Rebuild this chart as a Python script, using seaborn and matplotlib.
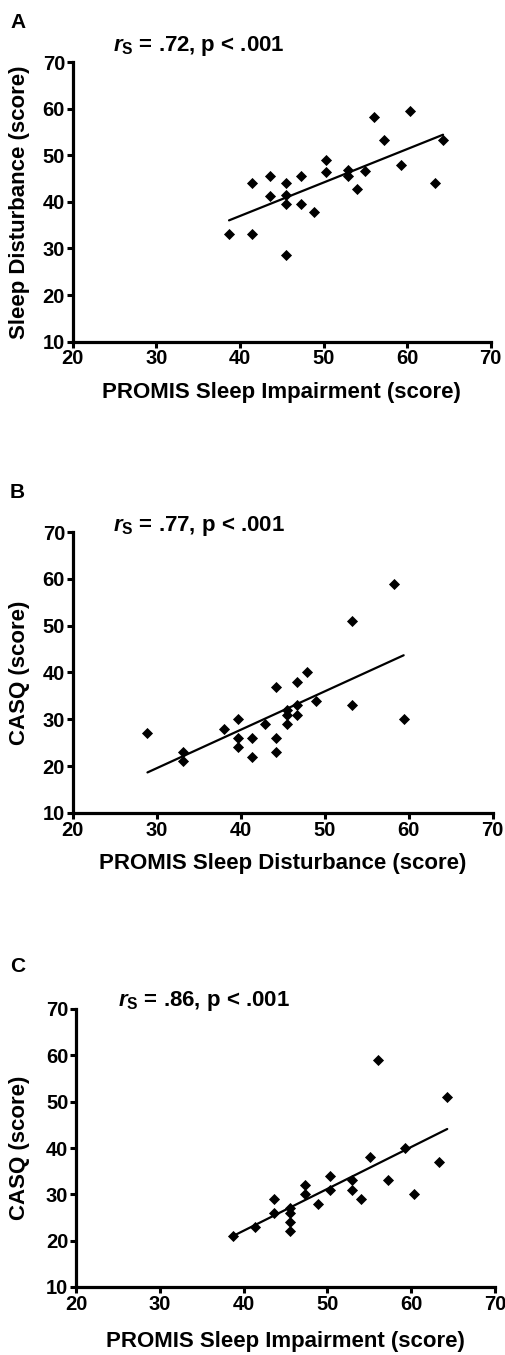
import matplotlib
matplotlib.use("Agg")
import matplotlib.pyplot as plt
import seaborn as sns
import pandas as pd

# Panel A: PROMIS Sleep Impairment (x) vs Sleep Disturbance (y)
a_x = [38.7, 41.4, 41.4, 43.6, 43.6, 45.5, 45.5, 45.5, 45.5, 47.3, 47.3, 48.9,
       50.3, 50.3, 52.9, 52.9, 54.0, 55.0, 59.3, 63.3, 56.0, 60.3, 57.2, 64.3]
a_y = [33.0, 44.0, 33.0, 45.5, 41.2, 44.0, 41.5, 39.5, 28.7, 45.5, 39.6, 37.8,
       49.0, 46.5, 46.8, 45.5, 42.8, 46.7, 47.8, 44.0, 58.2, 59.4, 53.2, 53.3]

# Panel B: PROMIS Sleep Disturbance (x) vs CASQ (y)
b_x = [28.9, 33.1, 33.1, 38.0, 39.7, 39.7, 39.7, 41.4, 41.4, 42.9, 44.2, 44.2,
       44.2, 45.5, 45.5, 45.5, 46.7, 46.7, 46.7, 47.9, 49.0, 53.3, 59.4, 53.3, 58.3]
b_y = [27.0, 23.0, 21.0, 28.0, 30.0, 26.0, 24.0, 26.0, 22.0, 29.0, 37.0, 26.0,
       23.0, 32.0, 31.0, 29.0, 38.0, 33.0, 31.0, 40.0, 34.0, 33.0, 30.0, 51.0, 59.0]

# Panel C: PROMIS Sleep Impairment (x) vs CASQ (y)
c_x = [38.7, 41.4, 43.6, 43.6, 45.5, 45.5, 45.5, 45.5, 47.3, 47.3, 48.9, 50.3,
       50.3, 52.9, 52.9, 54.0, 55.1, 57.2, 59.3, 60.3, 63.3, 64.3, 56.0]
c_y = [21.0, 23.0, 29.0, 26.0, 27.0, 26.0, 24.0, 22.0, 32.0, 30.0, 28.0, 34.0,
       31.0, 33.0, 31.0, 29.0, 38.0, 33.0, 40.0, 30.0, 37.0, 51.0, 59.0]

letters = ["A", "B", "C"]
stats = [".72", ".77", ".86"]
xlabels = ["PROMIS Sleep Impairment (score)",
           "PROMIS Sleep Disturbance (score)",
           "PROMIS Sleep Impairment (score)"]
ylabels = ["Sleep Disturbance (score)", "CASQ (score)", "CASQ (score)"]
xticks = [20, 30, 40, 50, 60, 70]
yticks = [10, 20, 30, 40, 50, 60, 70]

sns.set_style("ticks")
plt.rcParams["font.family"] = ["Liberation Sans", "DejaVu Sans"]
plt.rcParams["font.weight"] = "bold"
plt.rcParams["axes.labelweight"] = "bold"
plt.rcParams["text.color"] = "black"
plt.rcParams["axes.labelcolor"] = "black"
plt.rcParams["xtick.color"] = "black"
plt.rcParams["ytick.color"] = "black"
plt.rcParams["mathtext.fontset"] = "custom"
plt.rcParams["mathtext.it"] = "Liberation Sans:italic:bold"
plt.rcParams["mathtext.rm"] = "Liberation Sans:bold"
plt.rcParams["mathtext.bf"] = "Liberation Sans:bold"

W, H = 505, 1355
fig = plt.figure(figsize=(W / 100, H / 100), dpi=100)

# axes boxes in pixels: left, top, right, bottom
boxes = [(72.7, 62, 490.7, 341.7), (72.7, 532, 492.7, 813), (76, 1009, 495, 1287)]
letter_y = [22, 492, 966]
stat_pos = [(113, 46), (113, 526), (118, 1001)]
xlab_off = [51, 50, 54]

data = [(a_x, a_y), (b_x, b_y), (c_x, c_y)]
for i, ((xs, ys), (l, t, r, b)) in enumerate(zip(data, boxes)):
    ax = fig.add_axes([l / W, 1 - b / H, (r - l) / W, (b - t) / H])
    df = pd.DataFrame({"x": xs, "y": ys})
    sns.regplot(data=df, x="x", y="y", ax=ax, ci=None, color="black", marker="D",
                scatter_kws={"s": 32, "linewidths": 0, "alpha": 1},
                line_kws={"lw": 1.6})
    ax.set_xlim(20, 70)
    ax.set_ylim(10, 70)
    ax.set_xticks(xticks)
    ax.set_yticks(yticks)
    for s in ["top", "right"]:
        ax.spines[s].set_visible(False)
    for s in ["left", "bottom"]:
        ax.spines[s].set_linewidth(2.3)
        ax.spines[s].set_color("black")
    ax.tick_params(direction="out", length=4, width=2.2, labelsize=14.5, pad=1.5,
                   colors="black")
    ax.set_xlabel(xlabels[i], fontsize=16, fontweight="bold")
    ax.set_ylabel(ylabels[i], fontsize=16, fontweight="bold")
    h = b - t
    w = r - l
    ax.xaxis.set_label_coords(0.5, -xlab_off[i] / h)
    ax.yaxis.set_label_coords((20 - l) / w, 0.5)
    ax.xaxis.label.set_va("center")
    ax.yaxis.label.set_va("center")
    fig.text(10 / W, 1 - letter_y[i] / H, letters[i], fontsize=15, fontweight="bold",
             va="center", ha="left")
    sx, sy = stat_pos[i]
    fig.text(sx / W, 1 - sy / H, r"$r_{\mathrm{S}}$" + f" = {stats[i]}, p < .001",
             fontsize=16, fontweight="bold", va="center", ha="left")

fig.savefig("out.png", dpi=100)
